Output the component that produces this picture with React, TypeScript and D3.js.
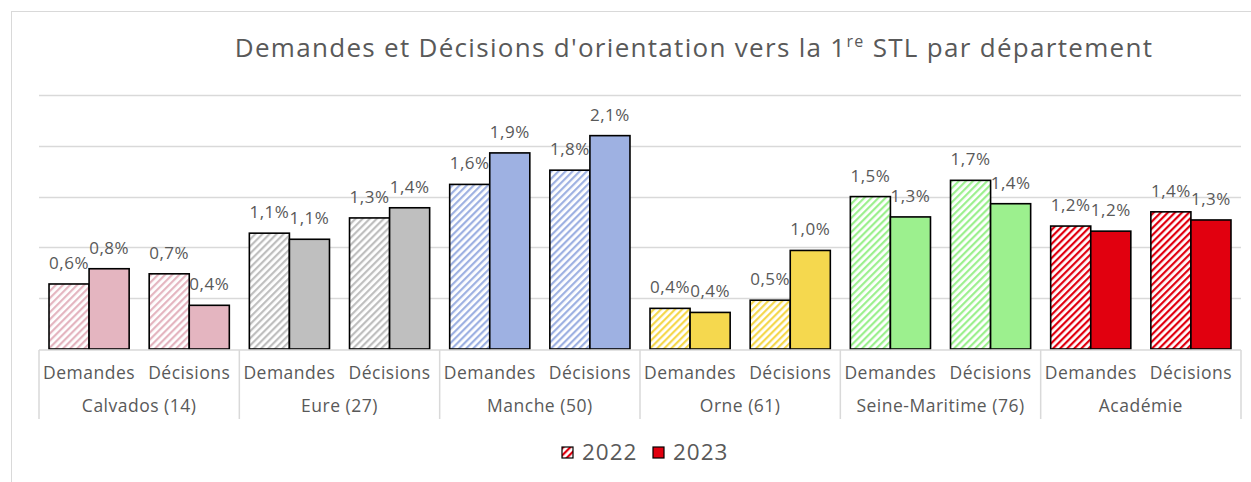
import React from "react";
import { select, scaleBand, scaleLinear, format } from "d3";

const departements = [
  "Calvados (14)",
  "Eure (27)",
  "Manche (50)",
  "Orne (61)",
  "Seine-Maritime (76)",
  "Académie",
];
const sousCategories = ["Demandes", "Décisions"];
const annees = ["2022", "2023"];

// valeurs en %
const demandes2022 = [0.64, 1.14, 1.62, 0.4, 1.5, 1.21];
const demandes2023 = [0.79, 1.08, 1.93, 0.36, 1.3, 1.16];
const decisions2022 = [0.74, 1.29, 1.76, 0.48, 1.66, 1.35];
const decisions2023 = [0.43, 1.39, 2.1, 0.97, 1.43, 1.27];

const couleurs = ["#e4b5c0", "#bfbfbf", "#9eb1e2", "#f5d84e", "#9cf08e", "#e1000f"];

const yTicks = [0, 0.5, 1, 1.5, 2, 2.5];

const FONT = "'Open Sans', sans-serif";
const GRIS = "#595959";

export default function App() {
  const svgRef = React.useRef<SVGSVGElement>(null);
  const width = 1251;
  const height = 482;
  const margin = { top: 95, right: 10, bottom: 133, left: 39 };

  React.useEffect(() => {
    const svg = select(svgRef.current);
    svg.selectAll("*").remove();

    const plotRight = width - margin.right;
    const baseline = height - margin.bottom;

    const x0 = scaleBand<string>()
      .domain(departements)
      .range([margin.left, plotRight])
      .padding(0);
    const x1 = scaleBand<string>()
      .domain(sousCategories)
      .range([0, x0.bandwidth()])
      .padding(0);
    const x2 = scaleBand<string>()
      .domain(annees)
      .range([0, x1.bandwidth()])
      .paddingInner(0)
      .paddingOuter(0.25);
    const y = scaleLinear().domain([0, 2.5]).range([baseline, margin.top]);

    const fmt = (v: number) => format(".1f")(v).replace(".", ",") + "%";

    // hachures
    const defs = svg.append("defs");
    couleurs.forEach((c, i) => {
      const p = defs
        .append("pattern")
        .attr("id", `hach-${i}`)
        .attr("patternUnits", "userSpaceOnUse")
        .attr("width", 5)
        .attr("height", 5)
        .attr("patternTransform", "rotate(45)");
      p.append("rect").attr("width", 5).attr("height", 5).attr("fill", "#fff");
      p.append("rect").attr("width", 2.2).attr("height", 5).attr("fill", c);
    });

    // cadre
    svg
      .append("rect")
      .attr("x", 11.5)
      .attr("y", 11.5)
      .attr("width", 1300)
      .attr("height", 600)
      .attr("fill", "#fff")
      .attr("stroke", "#d9d9d9");

    // titre
    const titre = svg
      .append("text")
      .attr("x", 694)
      .attr("y", 57)
      .attr("text-anchor", "middle")
      .attr("font-family", FONT)
      .attr("font-size", 26)
      .attr("letter-spacing", 1.3)
      .attr("fill", GRIS);
    titre.append("tspan").text("Demandes et Décisions d'orientation vers la 1");
    titre.append("tspan").attr("font-size", 16).attr("dy", -10).text("re");
    titre.append("tspan").attr("dy", 10).text(" STL par département");

    // grille
    svg
      .append("g")
      .selectAll("line")
      .data(yTicks.slice(1))
      .join("line")
      .attr("x1", margin.left)
      .attr("x2", plotRight)
      .attr("y1", (d) => Math.round(y(d)) + 0.5)
      .attr("y2", (d) => Math.round(y(d)) + 0.5)
      .attr("stroke", "#d9d9d9")
      .attr("stroke-width", 1.5);

    // barres
    type Mark = { dep: number; sc: string; an: string; v: number };
    const marks: Mark[] = [];
    departements.forEach((_, i) => {
      marks.push({ dep: i, sc: "Demandes", an: "2022", v: demandes2022[i] });
      marks.push({ dep: i, sc: "Demandes", an: "2023", v: demandes2023[i] });
      marks.push({ dep: i, sc: "Décisions", an: "2022", v: decisions2022[i] });
      marks.push({ dep: i, sc: "Décisions", an: "2023", v: decisions2023[i] });
    });
    const bx = (d: Mark) => x0(departements[d.dep])! + x1(d.sc)! + x2(d.an)!;

    svg
      .append("g")
      .selectAll("rect")
      .data(marks)
      .join("rect")
      .attr("x", bx)
      .attr("y", (d) => y(d.v))
      .attr("width", x2.bandwidth())
      .attr("height", (d) => baseline - y(d.v))
      .attr("fill", (d) => (d.an === "2022" ? `url(#hach-${d.dep})` : couleurs[d.dep]))
      .attr("stroke", "#000")
      .attr("stroke-width", 1.6);

    svg
      .append("g")
      .selectAll("text")
      .data(marks)
      .join("text")
      .attr("x", (d) => bx(d) + x2.bandwidth() / 2)
      .attr("y", (d) => y(d.v) - 15)
      .attr("text-anchor", "middle")
      .attr("font-family", FONT)
      .attr("font-size", 17)
      .attr("letter-spacing", 0.5)
      .attr("fill", GRIS)
      .text((d) => fmt(d.v));

    // axe des catégories
    const axe = svg.append("g").attr("stroke", "#d9d9d9").attr("stroke-width", 1.5);
    axe
      .append("line")
      .attr("x1", margin.left)
      .attr("x2", plotRight)
      .attr("y1", baseline + 1)
      .attr("y2", baseline + 1);
    axe
      .selectAll("line.sep")
      .data([...departements.map((d) => x0(d)!), plotRight])
      .join("line")
      .attr("class", "sep")
      .attr("x1", (d) => d)
      .attr("x2", (d) => d)
      .attr("y1", baseline + 1)
      .attr("y2", baseline + 70);

    const sousLabels = departements.flatMap((dep) =>
      sousCategories.map((sc) => ({ x: x0(dep)! + x1(sc)! + x1.bandwidth() / 2, t: sc }))
    );
    svg
      .append("g")
      .selectAll("text")
      .data(sousLabels)
      .join("text")
      .attr("x", (d) => d.x)
      .attr("y", baseline + 30)
      .attr("text-anchor", "middle")
      .attr("font-family", FONT)
      .attr("font-size", 17.5)
      .attr("letter-spacing", 0.5)
      .attr("fill", GRIS)
      .text((d) => d.t);

    svg
      .append("g")
      .selectAll("text")
      .data(departements)
      .join("text")
      .attr("x", (d) => x0(d)! + x0.bandwidth() / 2)
      .attr("y", baseline + 63)
      .attr("text-anchor", "middle")
      .attr("font-family", FONT)
      .attr("font-size", 17.5)
      .attr("letter-spacing", 0.5)
      .attr("fill", GRIS)
      .text((d) => d);

    // légende
    const leg = svg.append("g").attr("transform", "translate(562,447)");
    annees.forEach((an, i) => {
      const g = leg.append("g").attr("transform", `translate(${i * 91},0)`);
      g.append("rect")
        .attr("width", 11)
        .attr("height", 11)
        .attr("fill", an === "2022" ? "url(#hach-5)" : couleurs[5])
        .attr("stroke", "#000")
        .attr("stroke-width", 1.2);
      g.append("text")
        .attr("x", 20)
        .attr("y", 13)
        .attr("font-family", FONT)
        .attr("font-size", 22.5)
        .attr("letter-spacing", 1)
        .attr("fill", GRIS)
        .text(an);
    });
  }, []);

  return (
    <svg
      ref={svgRef}
      width={width}
      height={height}
      style={{ position: "absolute", left: 0, top: 0, background: "#fff" }}
    />
  );
}
